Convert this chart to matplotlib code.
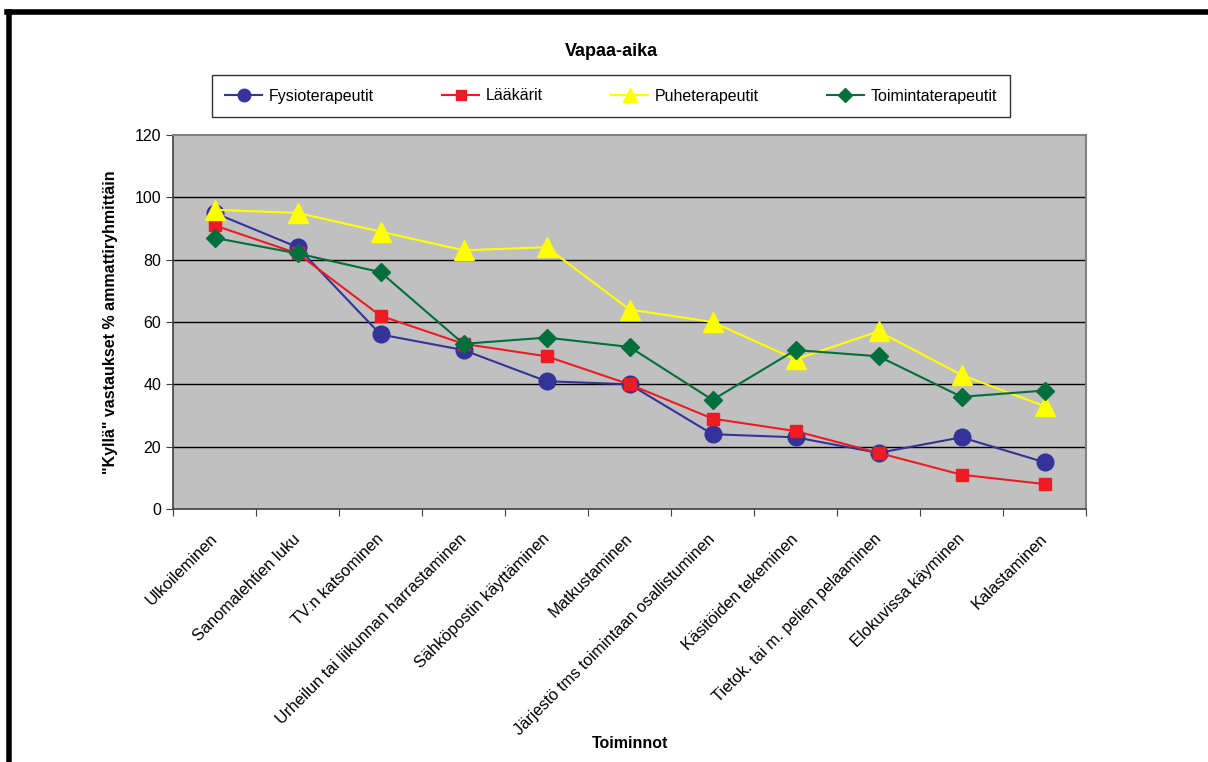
import matplotlib.pyplot as plt
from matplotlib.lines import Line2D
from matplotlib.transforms import ScaledTranslation
import numpy as np

plt.rcParams['font.family'] = ['Liberation Sans', 'DejaVu Sans']

activities = ["Ulkoileminen", "Sanomalehtien luku", "TV:n katsominen",
              "Urheilun tai liikunnan harrastaminen", "Sähköpostin käyttäminen",
              "Matkustaminen", "Järjestö tms toimintaan osallistuminen",
              "Käsitöiden tekeminen", "Tietok. tai m. pelien pelaaminen",
              "Elokuvissa käyminen", "Kalastaminen"]
fysio = [95, 84, 56, 51, 41, 40, 24, 23, 18, 23, 15]
laakarit = [91, 82, 62, 53, 49, 40, 29, 25, 18, 11, 8]
puhe = [96, 95, 89, 83, 84, 64, 60, 48, 57, 43, 33]
toiminta = [87, 82, 76, 53, 55, 52, 35, 51, 49, 36, 38]

fig = plt.figure(figsize=(12.08, 7.62), dpi=100)
ax = fig.add_axes([173 / 1208, 1 - 509 / 762, 913 / 1208, 374 / 762])
ax.set_facecolor('#C0C0C0')

x = np.arange(len(activities))
ax.plot(x, fysio, color='#333399', marker='o', markersize=12, lw=1.5, label='Fysioterapeutit')
ax.plot(x, laakarit, color='#ED1C24', marker='s', markersize=9, lw=1.5, label='Lääkärit')
ax.plot(x, puhe, color='#FFFF00', marker='^', markersize=14, lw=1.5, label='Puheterapeutit')
ax.plot(x, toiminta, color='#006F3C', marker='D', markersize=9, lw=1.5, label='Toimintaterapeutit')

ax.set_xlim(-0.5, len(activities) - 0.5)
ax.set_ylim(0, 120)
ax.set_yticks(range(0, 121, 20))
for yv in range(20, 120, 20):
    ax.axhline(yv, color='black', lw=1, zorder=0.5)

ax.set_xticks(np.arange(-0.5, len(activities), 1), minor=False)
ax.set_xticklabels([])
ax.set_xticks(x, minor=True)
ax.set_xticklabels(activities, minor=True, rotation=45, ha='right', va='top',
                   rotation_mode='anchor', fontsize=11.8)
ax.tick_params(axis='x', which='minor', length=0, pad=16)
ax.tick_params(axis='x', which='major', length=5, color='#404040')
ax.tick_params(axis='y', length=5, labelsize=11.5, color='#404040')
shift = ScaledTranslation(-5 / 100, 0, fig.dpi_scale_trans)
for lbl in ax.get_xticklabels(minor=True):
    lbl.set_transform(lbl.get_transform() + shift)

for side in ['top', 'right']:
    ax.spines[side].set_color('#808080')
    ax.spines[side].set_linewidth(1.5)
for side in ['left', 'bottom']:
    ax.spines[side].set_color('#404040')
    ax.spines[side].set_linewidth(1.2)

ax.set_ylabel('"Kyllä" vastaukset % ammattiryhmittäin', fontsize=11.5,
              fontweight='bold', labelpad=12)
fig.text(630 / 1208, 1 - 744 / 762, 'Toiminnot', ha='center', va='center',
         fontsize=11.5, fontweight='bold')
fig.text(611 / 1208, 1 - 52 / 762, 'Vapaa-aika', ha='center', va='center',
         fontsize=13, fontweight='bold')

leg = fig.legend(loc='center', bbox_to_anchor=(611 / 1208, 1 - 96 / 762), ncol=4,
                 fontsize=11.5, frameon=True, fancybox=False, edgecolor='black',
                 columnspacing=4.3, handlelength=2.3, handletextpad=0.4,
                 markerscale=0.75, borderpad=0.85)
leg.get_frame().set_linewidth(1)

# frame lines at the top and left of the figure
fig.add_artist(Line2D([7 / 1208, 1], [1 - 12 / 762, 1 - 12 / 762], color='black', lw=4))
fig.add_artist(Line2D([9 / 1208, 9 / 1208], [0, 1 - 12 / 762], color='black', lw=4))

fig.savefig('out.png', dpi=100)
